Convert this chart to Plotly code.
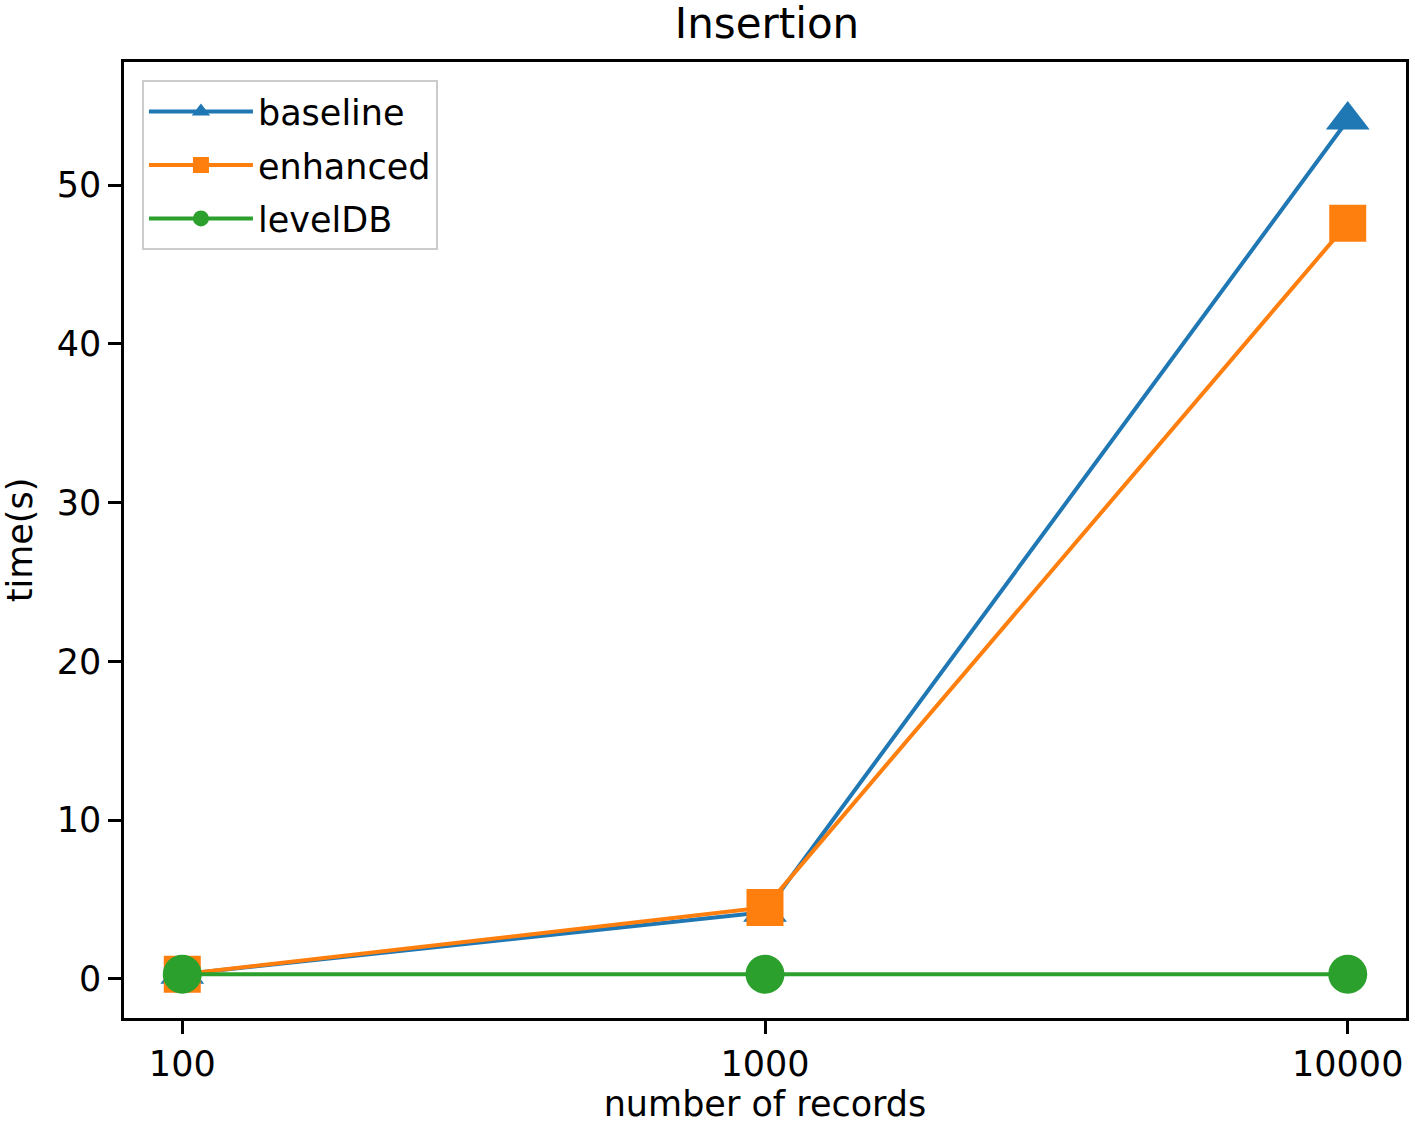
import plotly.graph_objects as go

categories = ["100", "1000", "10000"]
baseline = [0.3, 4.2, 54.1]
enhanced = [0.3, 4.5, 47.6]
leveldb = [0.3, 0.3, 0.3]

colors = {"baseline": "#1f77b4", "enhanced": "#ff7f0e", "levelDB": "#2ca02c"}
xpos = list(range(len(categories)))

fig = go.Figure()
fig.add_trace(go.Scatter(x=xpos, y=baseline, name="baseline", mode="lines+markers",
                         legendgroup="a",
                         line=dict(color=colors["baseline"], width=4),
                         marker=dict(symbol="triangle-up", size=38, color=colors["baseline"])))
fig.add_trace(go.Scatter(x=xpos, y=enhanced, name="enhanced", mode="lines+markers",
                         legendgroup="b",
                         line=dict(color=colors["enhanced"], width=4),
                         marker=dict(symbol="square", size=37, color=colors["enhanced"])))
fig.add_trace(go.Scatter(x=xpos, y=leveldb, name="levelDB", mode="lines+markers",
                         legendgroup="c",
                         line=dict(color=colors["levelDB"], width=4),
                         marker=dict(symbol="circle", size=39, color=colors["levelDB"])))

font = dict(family="DejaVu Sans", size=35, color="black")
fig.update_layout(
    width=1415, height=1124,
    margin=dict(l=124, r=6, t=62, b=105),
    paper_bgcolor="white", plot_bgcolor="white",
    font=font,
    showlegend=True,
    title=dict(text="Insertion", x=767 / 1415, xanchor="center", y=1 - 23 / 1124,
               yanchor="middle", xref="container", yref="container",
               font=dict(family="DejaVu Sans", size=42, color="black")),
    legend=dict(x=0.014, y=0.981, xanchor="left", yanchor="top",
                bgcolor="rgba(255,255,255,0.8)", bordercolor="#cccccc", borderwidth=2,
                font=dict(family="DejaVu Sans", size=35, color="black"),
                itemwidth=104, tracegroupgap=5),
)
fig.update_xaxes(
    tickmode="array", tickvals=xpos, ticktext=categories,
    range=[-0.1, 2.1], showgrid=False, zeroline=False,
    showline=True, linecolor="black", linewidth=2.5, mirror=True,
    ticks="outside", ticklen=13, tickwidth=2.5, tickcolor="black",
    title=dict(text="number of records", font=font, standoff=10),
    tickfont=font,
)
fig.update_yaxes(
    range=[-2.46, 57.75], tickmode="array", tickvals=[0, 10, 20, 30, 40, 50],
    showgrid=False, zeroline=False,
    showline=True, linecolor="black", linewidth=2.5, mirror=True,
    ticks="outside", ticklen=13, tickwidth=2.5, tickcolor="black",
    title=dict(text="time(s)", font=font, standoff=16),
    tickfont=font,
)

fig.write_html("out.html", config={"displayModeBar": False},
               post_script="document.body.style.margin='0';document.body.style.overflow='hidden';")
